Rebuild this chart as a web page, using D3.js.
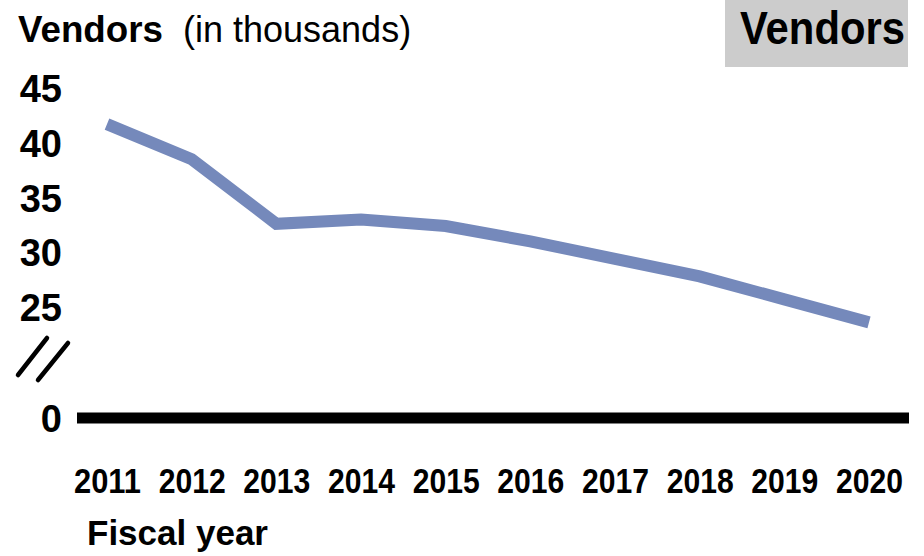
<!DOCTYPE html>
<html>
<head>
<meta charset="utf-8">
<script src="https://cdn.jsdelivr.net/npm/d3@7"></script>
<style>
  html, body { margin: 0; padding: 0; background: #fff; }
  svg { display: block; }
  text { font-family: "Liberation Sans", Arial, sans-serif; fill: #000; }
</style>
</head>
<body>
<svg id="chart" width="924" height="556"></svg>
<script>
// ---- data ----
const years = ["2011","2012","2013","2014","2015","2016","2017","2018","2019","2020"];
const vendors = [41.7, 38.5, 32.6, 33.0, 32.4, 31.0, 29.4, 27.8, 25.7, 23.6];
const yTicks = [0, 25, 30, 35, 40, 45];
const titleBold = "Vendors";
const titleRest = "(in thousands)";
const xTitle = "Fiscal year";
const tagLabel = "Vendors";

const svg = d3.select("#chart");

// scales
const x = d3.scalePoint().domain(years).range([107, 869]);
// broken axis: 0 sits below a break, 20..45 linear
const y = d3.scaleLinear().domain([0, 20, 45]).range([418, 361.8, 88]);

// title
const t = svg.append("text").attr("x", 18).attr("y", 42).attr("font-size", 36);
t.append("tspan").attr("font-weight", "bold").attr("textLength", 145).attr("lengthAdjust", "spacingAndGlyphs").text(titleBold);
t.append("tspan").attr("x", 183).text(titleRest);

// tag box top-right
svg.append("rect").attr("x", 725).attr("y", 0).attr("width", 183).attr("height", 67).attr("fill", "#cccccc");
svg.append("text").attr("x", 740).attr("y", 44).attr("font-size", 46).attr("font-weight", "bold")
  .attr("textLength", 165).attr("lengthAdjust", "spacingAndGlyphs").text(tagLabel);

// y axis labels
const yAxis = d3.axisLeft(y).tickValues(yTicks).tickSize(0).tickPadding(0).tickFormat(d3.format("d"));
const gy = svg.append("g").attr("transform", "translate(62,0)").call(yAxis);
gy.select(".domain").remove();
gy.selectAll("text").attr("font-size", 38).attr("font-weight", "bold")
  .attr("font-family", "'Liberation Sans', Arial, sans-serif").attr("fill", "#000")
  .attr("dy", "0.36em").attr("text-anchor", "end");

// break marks
const brk = [[18, 375, 47, 338], [38, 380, 68, 343]];
svg.selectAll("line.brk").data(brk).enter().append("line").attr("class", "brk")
  .attr("x1", d => d[0]).attr("y1", d => d[1]).attr("x2", d => d[2]).attr("y2", d => d[3])
  .attr("stroke", "#000").attr("stroke-width", 4.5).attr("stroke-linecap", "round");

// zero baseline
svg.append("line").attr("x1", 77).attr("x2", 909).attr("y1", y(0)).attr("y2", y(0))
  .attr("stroke", "#000").attr("stroke-width", 11);

// x axis labels
const xAxis = d3.axisBottom(x).tickSize(0).tickPadding(0);
const gx = svg.append("g").attr("transform", "translate(0,493)").call(xAxis);
gx.select(".domain").remove();
gx.selectAll("text").attr("font-size", 35).attr("font-weight", "bold")
  .attr("font-family", "'Liberation Sans', Arial, sans-serif").attr("fill", "#000")
  .attr("dy", 0).attr("y", 0)
  .attr("textLength", 67).attr("lengthAdjust", "spacingAndGlyphs");

// x title
svg.append("text").attr("x", 87).attr("y", 545).attr("font-size", 35).attr("font-weight", "bold").text(xTitle);

// line
const line = d3.line().x((d, i) => x(years[i])).y(d => y(d));
svg.append("path").datum(vendors).attr("d", line)
  .attr("fill", "none").attr("stroke", "#7589bb").attr("stroke-width", 12)
  .attr("stroke-linejoin", "miter").attr("stroke-linecap", "butt");
</script>
</body>
</html>
